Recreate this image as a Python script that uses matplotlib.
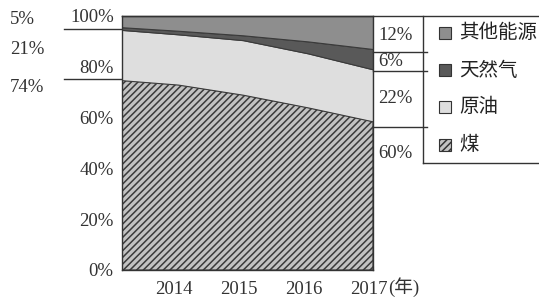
import matplotlib
matplotlib.use("Agg")
import matplotlib.pyplot as plt
from matplotlib.patches import Rectangle
from matplotlib.lines import Line2D
import matplotlib.transforms as mtransforms

# ---- data (shares, %) ----
years = [2013, 2014, 2015, 2016, 2017]
coal = [75.0, 73.0, 69.0, 64.0, 58.5]
oil = [19.8, 19.8, 21.5, 21.3, 20.5]
gas = [1.0, 1.4, 1.9, 4.7, 8.0]
other = [4.2, 5.8, 7.6, 10.0, 13.0]

series_names = ["煤", "原油", "天然气", "其他能源"]
legend_order = ["其他能源", "天然气", "原油", "煤"]
ytick_vals = [0, 20, 40, 60, 80, 100]
xtick_years = [2014, 2015, 2016, 2017]
left_labels = ["5%", "21%", "74%"]
right_labels = ["12%", "6%", "22%", "60%"]

colors = {"煤": "#c2c2c2", "原油": "#dedede", "天然气": "#595959", "其他能源": "#8e8e8e"}
hatches = {"煤": "/////", "原油": None, "天然气": None, "其他能源": None}

FONT = ["Liberation Serif", "Noto Sans CJK SC"]
plt.rcParams["font.family"] = FONT
plt.rcParams["hatch.color"] = "#3c3c3c"
plt.rcParams["hatch.linewidth"] = 1.1

W, H = 539, 297
fig = plt.figure(figsize=(W / 100, H / 100), dpi=100)

def fx(x):
    return x / W

def fy(y):
    return 1 - y / H

ax = fig.add_axes([fx(122), fy(270), fx(373) - fx(122), fy(16) - fy(270)])

values = {"煤": coal, "原油": oil, "天然气": gas, "其他能源": other}
base = [0.0] * len(years)
for name in series_names:
    top = [b + v for b, v in zip(base, values[name])]
    ax.fill_between(years, base, top, facecolor=colors[name],
                    edgecolor="#3a3a3a", linewidth=0.8,
                    hatch=hatches[name], zorder=2)
    base = top

ax.set_xlim(2013.14, 2017)
ax.set_ylim(0, 100)
ax.set_yticks(ytick_vals)
ax.set_yticklabels([f"{v}%" for v in ytick_vals], fontsize=13.5, color="#333333")
ax.set_xticks(xtick_years)
ax.set_xticklabels([str(y) for y in xtick_years], fontsize=13.5, color="#333333")
ax.tick_params(axis="y", length=0, pad=6)
ax.tick_params(axis="x", length=3, direction="in", color="#777777", pad=8)
offset = mtransforms.ScaledTranslation(-4 / 100, 0, fig.dpi_scale_trans)
for lbl in ax.get_xticklabels():
    lbl.set_transform(lbl.get_transform() + offset)
for sp in ax.spines.values():
    sp.set_color("#333333")
    sp.set_linewidth(1.0)

fig.text(fx(388), fy(287), "(年)", fontsize=13.5, color="#333333",
         ha="left", va="center", family=FONT)

# ---- annotation lines ----
def hline(x0, x1, y, lw=1.0):
    fig.add_artist(Line2D([fx(x0), fx(x1)], [fy(y), fy(y)], color="#333333",
                          linewidth=lw, transform=fig.transFigure))

hline(122, 539, 15.5)
hline(64, 121, 29)
hline(64, 121, 79)
hline(373, 427, 52)
hline(373, 427, 71)
hline(373, 427, 127)

for txt, y in zip(left_labels, [20, 49, 87]):
    fig.text(fx(10), fy(y), txt, fontsize=13.5, color="#333333", ha="left", va="center")
for txt, y in zip(right_labels, [35, 61, 98, 153]):
    fig.text(fx(378), fy(y), txt, fontsize=13.5, color="#333333", ha="left", va="center")

# ---- legend box ----
fig.add_artist(Line2D([fx(423), fx(423)], [fy(15.5), fy(163)], color="#333333",
                      linewidth=1.0, transform=fig.transFigure))
hline(423, 539, 163)
for name, y in zip(legend_order, [33, 70, 107, 145]):
    r = Rectangle((fx(439), fy(y + 6)), fx(12), 12 / H, transform=fig.transFigure,
                  facecolor=colors[name], edgecolor="#333333", linewidth=0.8,
                  hatch=("/////" if hatches[name] else None))
    fig.add_artist(r)
    fig.text(fx(459), fy(y), name, fontsize=14, color="#222222", ha="left",
             va="center", family=["Noto Sans CJK SC"])

fig.savefig("out.png", dpi=100)
